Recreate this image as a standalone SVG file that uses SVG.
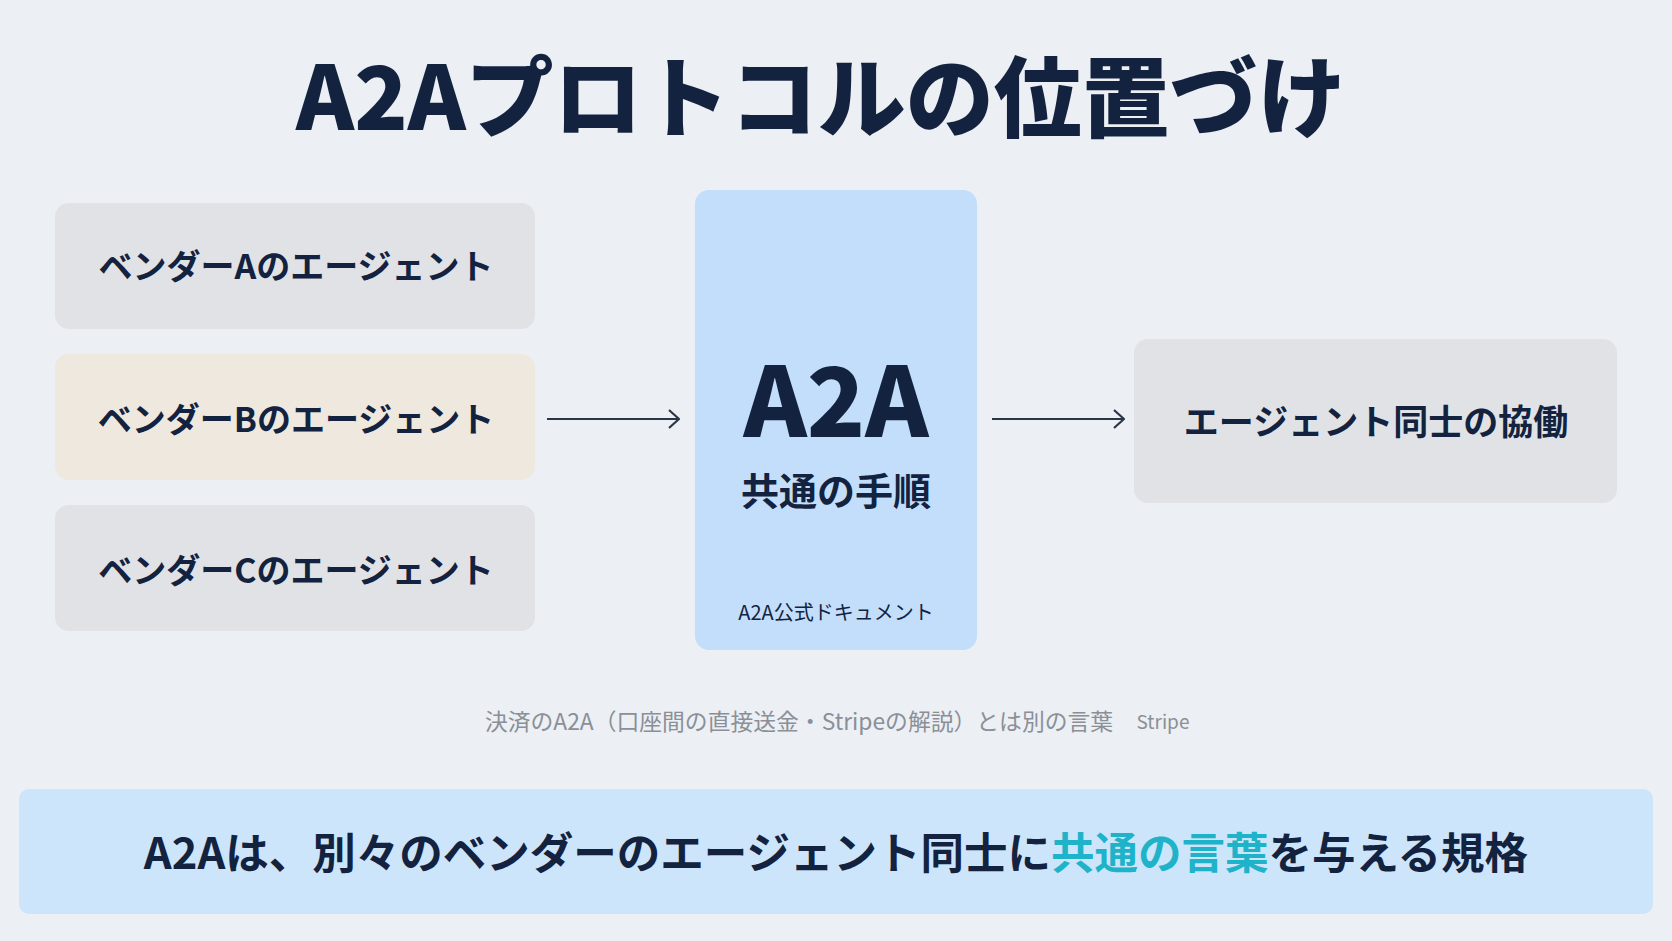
<svg xmlns="http://www.w3.org/2000/svg" width="1672" height="941" viewBox="0 0 1672 941">
<style>
text{font-family:"Noto Sans CJK JP","Noto Sans",sans-serif;text-anchor:middle;fill:#13233f}
.b{font-weight:700}
.gray{fill:#e0e2e6}
.g{fill:#8a8f98;font-weight:400}
.ln{stroke:#2b3548;stroke-width:2.2;fill:none}
</style>
<defs><marker id="ar" viewBox="0 0 12 20" refX="11" refY="10" markerWidth="12" markerHeight="20" markerUnits="userSpaceOnUse" orient="auto"><path d="M1 1 L11 10 L1 19" fill="none" stroke="#2b3548" stroke-width="2.2"/></marker></defs>
<rect width="1672" height="941" fill="#eceff3"/>
<text x="821" y="130" font-size="88" font-weight="900">A2Aプロトコルの位置づけ</text>
<g id="vendorA"><rect class="gray" x="55" y="203" width="480" height="126" rx="14"/><text class="b" x="296" y="279" font-size="34">ベンダーAのエージェント</text></g>
<g id="vendorB"><rect fill="#efe8de" x="55" y="354" width="480" height="126" rx="14"/><text class="b" x="296" y="432" font-size="34">ベンダーBのエージェント</text></g>
<g id="vendorC"><rect class="gray" x="55" y="505" width="480" height="126" rx="14"/><text class="b" x="296" y="583" font-size="34">ベンダーCのエージェント</text></g>
<g id="a2a"><rect fill="#c3defa" x="695" y="190" width="282" height="460" rx="14"/>
<text x="836" y="437" font-size="96" font-weight="900">A2A</text>
<text class="b" x="836" y="505" font-size="38">共通の手順</text>
<text x="836" y="620" font-size="20" fill="#5f6b7c">A2A公式ドキュメント</text></g>
<g id="result"><rect class="gray" x="1134" y="339" width="483" height="164" rx="14"/><text class="b" x="1376" y="435" font-size="35">エージェント同士の協働</text></g>
<g id="connectors"><path class="ln" d="M547 419 H679" marker-end="url(#ar)"/><path class="ln" d="M992 419 H1124" marker-end="url(#ar)"/></g>
<g id="note"><text class="g" x="799" y="730" font-size="22.8">決済のA2A（口座間の直接送金・Stripeの解説）とは別の言葉</text><text class="g" x="1163" y="729" font-size="19">Stripe</text></g>
<g id="summary"><rect fill="#cde5fa" x="19" y="789" width="1634" height="125" rx="10"/>
<text class="b" x="836" y="869" font-size="43.5" font-weight="900">A2Aは、別々のベンダーのエージェント同士に<tspan fill="#1fb3c9">共通の言葉</tspan>を与える規格</text></g>
</svg>
